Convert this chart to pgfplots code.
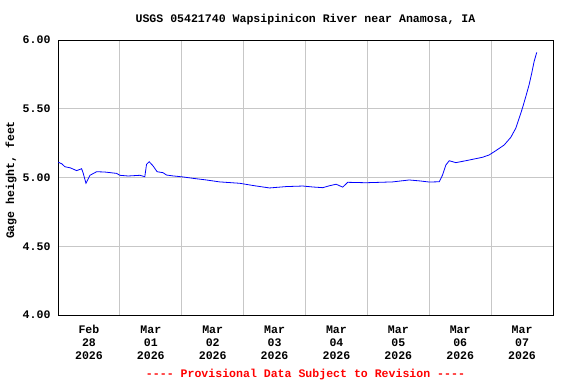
\documentclass[border=0pt]{standalone}
\usepackage{pgfplots}
\pgfplotsset{compat=1.18}
\usepackage{fontspec}
\setmainfont{Liberation Mono}
\setmonofont{Liberation Mono}
\newcommand\lf{\fontsize{11.6}{13}\selectfont\bfseries}
\begin{document}
\begin{tikzpicture}[x=1bp,y=1bp]
\begin{axis}[
  at={(0,0)}, anchor=south west,
  scale only axis, width=495bp, height=275bp,
  xmin=0, xmax=8, ymin=4, ymax=6,
  axis line style={black, line width=0.9bp},
  xtick={0.5,1.5,2.5,3.5,4.5,5.5,6.5,7.5},
  xticklabels={{Feb\\28\\2026},{Mar\\01\\2026},{Mar\\02\\2026},{Mar\\03\\2026},{Mar\\04\\2026},{Mar\\05\\2026},{Mar\\06\\2026},{Mar\\07\\2026}},
  x tick label style={align=center, font=\lf, yshift=-7bp},
  minor xtick={1,2,3,4,5,6,7},
  xminorgrids=true,
  ytick={4,4.5,5,5.5,6},
  ymajorgrids=true,
  grid style={draw=black!22, line width=0.8bp},
  minor grid style={draw=black!22, line width=0.8bp},
  major tick length=0pt, minor tick length=0pt,
  /pgf/number format/assume math mode=true,
  yticklabel style={/pgf/number format/fixed, /pgf/number format/fixed zerofill, /pgf/number format/precision=2, font=\lf, xshift=-4bp},
  clip=true,
]
\addplot[blue, line width=0.8bp, mark=none] coordinates {
(0.005,5.111) (0.06,5.100) (0.113,5.078) (0.20,5.070) (0.302,5.050) (0.382,5.064) (0.408,5.030)
(0.452,4.958) (0.516,5.016) (0.624,5.042) (0.75,5.040) (0.85,5.035) (0.947,5.030) (1.0,5.016)
(1.134,5.011) (1.323,5.016) (1.403,5.006) (1.431,5.096) (1.473,5.115) (1.537,5.084) (1.602,5.042)
(1.698,5.035) (1.753,5.018) (1.85,5.012) (2.021,5.004) (2.182,4.994) (2.398,4.982) (2.613,4.968)
(2.935,4.958) (3.177,4.940) (3.419,4.924) (3.689,4.934) (3.956,4.938) (4.118,4.931) (4.279,4.926)
(4.387,4.940) (4.495,4.951) (4.602,4.930) (4.682,4.965) (4.979,4.962) (5.2,4.965) (5.408,4.968)
(5.677,4.982) (5.85,4.975) (6.0,4.967) (6.161,4.969) (6.215,5.018) (6.269,5.091) (6.323,5.122)
(6.431,5.108) (6.645,5.127) (6.860,5.147) (6.968,5.164) (7.076,5.195) (7.210,5.236) (7.318,5.292)
(7.398,5.358) (7.452,5.430) (7.505,5.503) (7.560,5.588) (7.613,5.673) (7.656,5.758) (7.694,5.842)
(7.737,5.910)
};
\end{axis}
\node[font=\lf, anchor=center] at (247.5bp,295bp) {USGS 05421740 Wapsipinicon River near Anamosa, IA};
\node[font=\lf, rotate=90, anchor=center] at (-47bp,135bp) {Gage height, feet};
\node[font=\lf, text=red, anchor=center] at (247.5bp,-60bp) {-{}-{}-{}- Provisional Data Subject to Revision -{}-{}-{}-};
\path[use as bounding box] (-58bp,-69bp) rectangle (518bp,315bp);
\end{tikzpicture}
\end{document}
